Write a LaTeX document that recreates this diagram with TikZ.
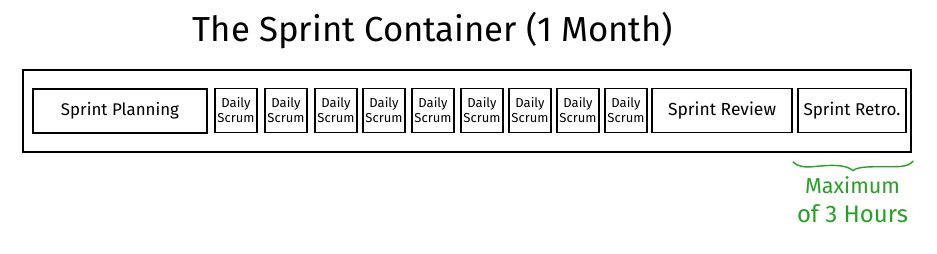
\documentclass[tikz,border=0pt]{standalone}
\usepackage{fontspec}
\setmainfont{Fira Sans}
\definecolor{bgreen}{RGB}{36,162,36}
\newcommand{\fitw}[2]{\resizebox{#1pt}{!}{#2}}
\begin{document}
\begin{tikzpicture}[x=1pt,y=-1pt,
  box/.style={draw=black,line width=1.3pt,fill=white,inner sep=0pt,minimum height=44pt,anchor=center},
  dsbox/.style={box,minimum width=42pt,align=center,font=\fontsize{13}{15}\selectfont},
  bigbox/.style={box},
  green text/.style={text=bgreen,inner sep=0pt,anchor=base}]
\useasboundingbox (0,0) rectangle (937,254);
\fill[white] (0,0) rectangle (937,254);
\node[anchor=base,inner sep=0pt] (title) at (433,42) {\fitw{480}{The Sprint Container (1 Month)}};
\node[box,minimum width=888pt,minimum height=82pt] (cont) at (467,111) {};
\node[bigbox,minimum width=174pt] (plan) at (120,111) {\fitw{118}{Sprint Planning}};
\foreach \i/\x in {1/236,2/286,3/336,4/384,5/433,6/482,7/530,8/578,9/626}{
  \node[dsbox] (ds\i) at (\x,110.5) {Daily\\Scrum};
}
\node[bigbox,minimum width=140pt] (rev) at (722,110.5) {\fitw{108}{Sprint Review}};
\node[bigbox,minimum width=108pt] (retro) at (852,110.5) {\fitw{97}{Sprint Retro.}};
\coordinate (bl) at (793,162);
\coordinate (tip) at (853,170.5);
\coordinate (br) at (913,161);
\draw[bgreen,line width=1.4pt,line cap=round]
  (bl) .. controls (798,167) and (805,167.5) .. (815,166.5)
  .. controls (830,165) and (845,164) .. (tip)
  .. controls (860,165) and (880,167.5) .. (900,166.5)
  .. controls (907,166) and (911,164) .. (br);
\node[green text] (max1) at (852.5,193) {\fitw{95}{Maximum}};
\node[green text] (max2) at (852.5,222) {\fitw{111}{of 3 Hours}};
\end{tikzpicture}
\end{document}
